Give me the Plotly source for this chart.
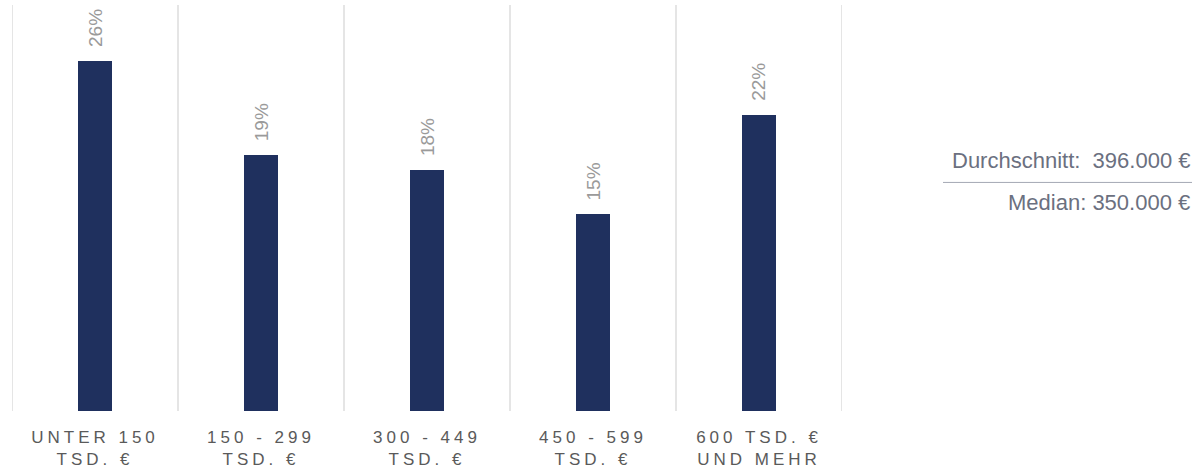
import plotly.graph_objects as go

categories = ["UNTER 150<br>TSD. €", "150 - 299<br>TSD. €", "300 - 449<br>TSD. €",
              "450 - 599<br>TSD. €", "600 TSD. €<br>UND MEHR"]
shares = [26.0, 19.0, 17.9, 14.6, 22.0]
stat_labels = ["Durchschnitt:", "Median:"]
stat_values = ["396.000 €", "350.000 €"]

BAR = "#1f305e"
FONT = "Arial, Liberation Sans, sans-serif"

fig = go.Figure()
fig.add_trace(go.Bar(
    x=list(range(len(categories))), y=shares, width=0.2,
    marker=dict(color=BAR, line=dict(width=0)),
    hoverinfo="skip",
))

# percentage labels (rotated)
for i, v in enumerate(shares):
    fig.add_annotation(x=i, y=v, xref="x", yref="y", text=f"{v:.0f}%",
                       textangle=-90, showarrow=False, yanchor="bottom",
                       xanchor="center", yshift=12,
                       font=dict(family=FONT, size=19, color="#9a9a9a"))

# category separators
for i in range(len(categories) + 1):
    fig.add_shape(type="line", xref="x", yref="paper", x0=i - 0.5, x1=i - 0.5,
                  y0=0, y1=1, line=dict(color="#dddddd", width=1.5), layer="below")

# statistics block on the right
fig.add_annotation(xref="paper", yref="paper", x=1.4215, y=0.618,
                   text=f"{stat_labels[0]}  {stat_values[0]}", showarrow=False,
                   xanchor="right", yanchor="middle",
                   font=dict(family=FONT, size=22, color="#6b7080"))
fig.add_annotation(xref="paper", yref="paper", x=1.4215, y=0.513,
                   text=f"{stat_labels[1]} {stat_values[1]}", showarrow=False,
                   xanchor="right", yanchor="middle",
                   font=dict(family=FONT, size=22, color="#6b7080"))
fig.add_shape(type="line", xref="paper", yref="paper", x0=1.1217, x1=1.4217,
              y0=0.563, y1=0.563, line=dict(color="#a4a8b4", width=1))

fig.update_layout(
    width=1201, height=469,
    margin=dict(l=12, r=359, t=5, b=58),
    paper_bgcolor="white", plot_bgcolor="white",
    showlegend=False, bargap=0,
    xaxis=dict(range=[-0.5, len(categories) - 0.5], tickmode="array",
               tickvals=list(range(len(categories))), ticktext=categories,
               showgrid=False, zeroline=False, showline=False, ticks="",
               ticklabelstandoff=14, automargin=False,
               tickfont=dict(family=FONT, size=17, color="#5a5a5a")),
    yaxis=dict(range=[0, 30.16], visible=False, showgrid=False, zeroline=False,
               automargin=False),
)

post = ("var s=document.createElement('style');"
        "s.innerHTML='.xtick text{letter-spacing:4px}';"
        "document.head.appendChild(s);")
fig.write_html("out.html", post_script=post)
